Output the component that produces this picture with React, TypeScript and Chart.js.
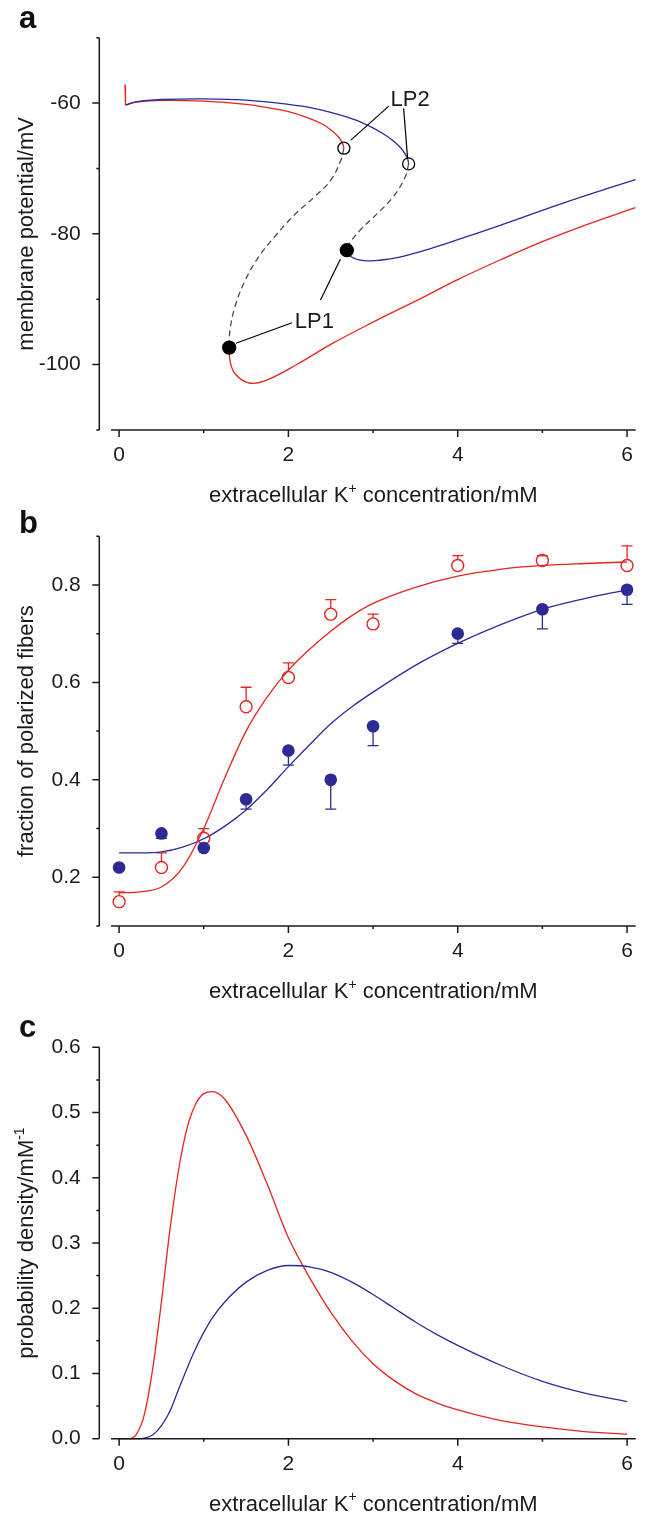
import React, { useEffect, useRef } from "react";
import { Chart, registerables } from "chart.js";
Chart.register(...registerables);

const FONT = "'Liberation Sans', Arial, Helvetica, sans-serif";
const RED = "#e52420";
const BLUE = "#2d2a96";
const INK = "#1a1a1a";
const DASH = "#4a4a4a";

type Pt = [number, number];

// ---------- shared x axis ----------
const xMajorTicks = [0, 2, 4, 6];
const xMinorTicks = [1, 3, 5];
const X_MIN = -0.234;
const X_MAX = 6.102;

// ---------- panel a : bifurcation diagram ----------
const aYMajor = [-60, -80, -100];
const aYMinor = [-50, -70, -90, -110];
const aRedSpike: Pt[] = [[0.07, -57.2], [0.075, -60.3]];
const aRedUpper: Pt[] = [[0.075, -60.3], [0.2, -59.85], [0.5, -59.6], [1.0, -59.7], [1.5, -60.2], [1.8, -60.8], [2.0, -61.3], [2.2, -62.1], [2.4, -63.2], [2.52, -64.3], [2.6, -65.3], [2.64, -66.2], [2.655, -66.9]];
const aRedUnstable: Pt[] = [[2.655, -66.9], [2.62, -68.7], [2.5, -71.8], [2.31, -74.3], [2.07, -77.1], [1.84, -80.4], [1.65, -83.5], [1.49, -87.1], [1.37, -91.1], [1.31, -94.7], [1.3, -97.4]];
const aRedLower: Pt[] = [[1.3, -97.4], [1.31, -99.4], [1.37, -101.4], [1.53, -102.8], [1.72, -102.5], [2.11, -99.9], [2.5, -96.9], [3.0, -93.5], [3.5, -90.3], [4.0, -87.0], [4.5, -84.0], [5.0, -81.2], [5.5, -78.7], [6.1, -76.0]];
const aBlueUpper: Pt[] = [[0.08, -60.3], [0.2, -59.8], [0.5, -59.45], [1.0, -59.35], [1.5, -59.55], [2.0, -60.2], [2.3, -60.8], [2.58, -61.7], [2.8, -62.6], [2.97, -63.6], [3.12, -64.7], [3.24, -65.8], [3.33, -66.9], [3.38, -67.8], [3.41, -68.6], [3.42, -69.3]];
const aBlueUnstable: Pt[] = [[3.42, -69.3], [3.38, -71.3], [3.24, -74.3], [3.05, -76.9], [2.85, -79.4], [2.72, -81.5], [2.69, -82.5]];
const aBlueLower: Pt[] = [[2.69, -82.5], [2.74, -83.5], [2.89, -84.1], [3.1, -84.0], [3.3, -83.6], [3.67, -82.3], [4.0, -80.9], [4.5, -78.7], [5.0, -76.4], [5.5, -74.2], [6.1, -71.7]];
const aLP1: Pt[] = [[1.3, -97.4], [2.69, -82.5]];
const aLP2: Pt[] = [[2.655, -66.9], [3.42, -69.3]];
const aLeaders: Pt[][] = [
  [[3.186, -60.46], [2.737, -65.66]],
  [[3.361, -60.81], [3.408, -68.46]],
  [[2.043, -93.6], [1.38, -96.74]],
  [[2.379, -90.12], [2.613, -83.9]],
];
const aLabels: { text: string; at: Pt }[] = [
  { text: "LP2", at: [3.207, -60.46] },
  { text: "LP1", at: [2.075, -94.4] },
];

// ---------- panel b : fraction of polarized fibers ----------
const bYMajor = [0.2, 0.4, 0.6, 0.8];
const bYMinor = [0.1, 0.3, 0.5, 0.7, 0.9];
const bConc = [0, 0.5, 1, 1.5, 2, 2.5, 3, 4, 5, 6];
const bRedMean = [0.15, 0.22, 0.28, 0.55, 0.61, 0.74, 0.72, 0.84, 0.85, 0.84];
const bRedErr = [0.02, 0.03, 0.02, 0.04, 0.03, 0.03, 0.02, 0.02, 0.01, 0.04];
const bBlueMean = [0.22, 0.29, 0.26, 0.36, 0.46, 0.4, 0.51, 0.7, 0.75, 0.79];
const bBlueErr = [0, 0.01, 0, 0.02, 0.03, 0.06, 0.04, 0.02, 0.04, 0.03];
const bFitX = [0, 0.25, 0.5, 0.75, 1, 1.25, 1.5, 1.75, 2, 2.25, 2.5, 2.75, 3, 3.5, 4, 4.5, 5, 5.5, 6];
const bRedFit = [0.168, 0.17, 0.18, 0.22, 0.3, 0.405, 0.5, 0.57, 0.625, 0.668, 0.705, 0.737, 0.762, 0.795, 0.818, 0.832, 0.84, 0.844, 0.847];
const bBlueFit = [0.25, 0.25, 0.252, 0.262, 0.279, 0.305, 0.338, 0.38, 0.427, 0.472, 0.515, 0.55, 0.58, 0.635, 0.68, 0.718, 0.75, 0.772, 0.79];

// ---------- panel c : probability density ----------
const cYMajor = [0, 0.1, 0.2, 0.3, 0.4, 0.5, 0.6];
const cYMinor = [0.05, 0.15, 0.25, 0.35, 0.45, 0.55];
const cX = [0, 0.1, 0.2, 0.3, 0.4, 0.5, 0.6, 0.7, 0.8, 0.9, 1.0, 1.1, 1.25, 1.5, 1.75, 2.0, 2.25, 2.5, 2.75, 3.0, 3.25, 3.5, 3.75, 4.0, 4.5, 5.0, 5.5, 6.0];
const cRed = [0, 0, 0.006, 0.038, 0.11, 0.21, 0.32, 0.41, 0.475, 0.512, 0.529, 0.532, 0.52, 0.465, 0.39, 0.308, 0.247, 0.194, 0.15, 0.115, 0.089, 0.069, 0.055, 0.044, 0.028, 0.018, 0.011, 0.007];
const cBlue = [0, 0, 0, 0.001, 0.006, 0.02, 0.042, 0.075, 0.107, 0.137, 0.163, 0.185, 0.21, 0.24, 0.258, 0.2655, 0.2635, 0.255, 0.24, 0.221, 0.2, 0.179, 0.16, 0.143, 0.113, 0.088, 0.07, 0.057];

// ---------- titles ----------
type Part = { t: string; sup?: boolean };
const xTitle: Part[] = [{ t: "extracellular K" }, { t: "+", sup: true }, { t: " concentration/mM" }];
const aYTitle: Part[] = [{ t: "membrane potential/mV" }];
const bYTitle: Part[] = [{ t: "fraction of polarized fibers" }];
const cYTitle: Part[] = [{ t: "probability density/mM" }, { t: "-1", sup: true }];

// ---------- helpers ----------
const toXY = (pts: Pt[]) => pts.map(([x, y]) => ({ x, y }));
const zipXY = (xs: number[], ys: number[]) => xs.map((x, i) => ({ x, y: ys[i] }));

const lineDs = (data: any[], color: string, extra: any = {}) => ({
  type: "line",
  data,
  borderColor: color,
  borderWidth: 1.3,
  pointRadius: 0,
  fill: false,
  clip: false,
  ...extra,
});

function drawRich(ctx: CanvasRenderingContext2D, parts: Part[], x: number, y: number, rotate: boolean, size: number) {
  ctx.save();
  ctx.translate(x, y);
  if (rotate) ctx.rotate(-Math.PI / 2);
  ctx.fillStyle = INK;
  ctx.textAlign = "left";
  ctx.textBaseline = "alphabetic";
  const fontOf = (p: Part) => `${p.sup ? Math.round(size * 0.62) : size}px ${FONT}`;
  const widths = parts.map((p) => {
    ctx.font = fontOf(p);
    return ctx.measureText(p.t).width;
  });
  const total = widths.reduce((a, b) => a + b, 0);
  let cx = -total / 2;
  parts.forEach((p, i) => {
    ctx.font = fontOf(p);
    ctx.fillText(p.t, cx, p.sup ? -size * 0.42 : 0);
    cx += widths[i];
  });
  ctx.restore();
}

type PanelDef = {
  key: string;
  letter: string;
  letterY: number;
  top: number;
  height: number;
  areaTop: number;
  areaBottom: number;
  yMin: number;
  yMax: number;
  yMajor: number[];
  yMinor: number[];
  fmt: (v: number) => string;
  yTitle: Part[];
  datasets: any[];
  errors?: { xs: number[]; means: number[]; errs: number[]; dir: number; color: string; start: number }[];
  labels?: { text: string; at: Pt }[];
};

function makePlugin(p: PanelDef) {
  return {
    id: "decor_" + p.key,
    beforeDatasetsDraw(chart: any) {
      if (!p.errors) return;
      const { ctx, scales } = chart;
      const xs = scales.x, ys = scales.y;
      ctx.save();
      ctx.lineWidth = 1.3;
      p.errors.forEach((e) => {
        ctx.strokeStyle = e.color;
        e.xs.forEach((xv, i) => {
          if (!e.errs[i]) return;
          const px = xs.getPixelForValue(xv);
          const p0 = ys.getPixelForValue(e.means[i]);
          const p1 = ys.getPixelForValue(e.means[i] + e.dir * e.errs[i]);
          ctx.beginPath();
          if (Math.abs(p1 - p0) > e.start) {
            const s = e.dir > 0 ? p0 - e.start : p0 + e.start;
            ctx.moveTo(px, s);
            ctx.lineTo(px, p1);
          }
          ctx.moveTo(px - 5.5, p1);
          ctx.lineTo(px + 5.5, p1);
          ctx.stroke();
        });
      });
      ctx.restore();
    },
    afterDraw(chart: any) {
      const { ctx, chartArea: ca, scales } = chart;
      const xs = scales.x, ys = scales.y;
      ctx.save();
      ctx.strokeStyle = INK;
      ctx.lineWidth = 1.5;
      ctx.lineCap = "butt";
      ctx.beginPath();
      ctx.moveTo(ca.left, ys.getPixelForValue(p.yMax));
      ctx.lineTo(ca.left, ys.getPixelForValue(p.yMin));
      ctx.stroke();
      ctx.beginPath();
      p.yMajor.forEach((v) => {
        const py = ys.getPixelForValue(v);
        ctx.moveTo(ca.left - 7, py);
        ctx.lineTo(ca.left, py);
      });
      p.yMinor.forEach((v) => {
        const py = ys.getPixelForValue(v);
        ctx.moveTo(ca.left - 3, py);
        ctx.lineTo(ca.left, py);
      });
      ctx.stroke();
      ctx.beginPath();
      ctx.moveTo(ca.left + 11.7, ca.bottom);
      ctx.lineTo(ca.right, ca.bottom);
      ctx.stroke();
      ctx.beginPath();
      xMajorTicks.forEach((v) => {
        const px = xs.getPixelForValue(v);
        ctx.moveTo(px, ca.bottom);
        ctx.lineTo(px, ca.bottom + 7);
      });
      xMinorTicks.forEach((v) => {
        const px = xs.getPixelForValue(v);
        ctx.moveTo(px, ca.bottom);
        ctx.lineTo(px, ca.bottom + 3);
      });
      ctx.stroke();
      ctx.restore();

      drawRich(ctx, xTitle, (ca.left + 11.7 + ca.right) / 2, ca.bottom + 72, false, 22);
      drawRich(ctx, p.yTitle, 33, (ca.top + ca.bottom) / 2, true, 22);

      ctx.save();
      ctx.fillStyle = "#111";
      ctx.font = `bold 31px ${FONT}`;
      ctx.textAlign = "left";
      ctx.textBaseline = "alphabetic";
      ctx.fillText(p.letter, 19, p.letterY);
      ctx.restore();

      if (p.labels) {
        ctx.save();
        ctx.fillStyle = INK;
        ctx.font = `22px ${FONT}`;
        ctx.textAlign = "left";
        ctx.textBaseline = "alphabetic";
        p.labels.forEach((l) => {
          ctx.fillText(l.text, xs.getPixelForValue(l.at[0]), ys.getPixelForValue(l.at[1]));
        });
        ctx.restore();
      }
    },
  };
}

function buildConfig(p: PanelDef): any {
  const tickFont = { family: FONT, size: 21 };
  return {
    type: "line",
    data: { datasets: p.datasets },
    options: {
      responsive: false,
      animation: false,
      devicePixelRatio: 1,
      events: [],
      layout: { padding: { left: 0, right: 5, top: p.areaTop, bottom: 0 } },
      plugins: { legend: { display: false }, tooltip: { enabled: false }, title: { display: false } },
      scales: {
        x: {
          type: "linear",
          position: "bottom",
          min: X_MIN,
          max: X_MAX,
          grid: { display: false, drawTicks: false },
          border: { display: false },
          ticks: { autoSkip: false, maxRotation: 0, padding: 13, font: tickFont, color: INK, callback: (v: number) => String(v) },
          afterBuildTicks: (s: any) => {
            s.ticks = xMajorTicks.map((v) => ({ value: v }));
          },
          afterFit: (s: any) => {
            s.height = p.height - p.areaBottom;
          },
        },
        y: {
          type: "linear",
          position: "left",
          min: p.yMin,
          max: p.yMax,
          grid: { display: false, drawTicks: false },
          border: { display: false },
          ticks: { autoSkip: false, padding: 18.6, font: tickFont, color: INK, callback: (v: number) => p.fmt(v) },
          afterBuildTicks: (s: any) => {
            s.ticks = p.yMajor.map((v) => ({ value: v }));
          },
          afterFit: (s: any) => {
            s.width = 99.3;
          },
        },
      },
    },
    plugins: [makePlugin(p)],
  };
}

const panelA: PanelDef = {
  key: "a",
  letter: "a",
  letterY: 28,
  top: 0,
  height: 505,
  areaTop: 37.7,
  areaBottom: 430,
  yMin: -110,
  yMax: -50,
  yMajor: aYMajor,
  yMinor: aYMinor,
  fmt: (v) => String(v),
  yTitle: aYTitle,
  labels: aLabels,
  datasets: [
    lineDs(toXY(aLP1), "#000", { showLine: false, pointRadius: 6.5, pointBackgroundColor: "#000", pointBorderColor: "#000", order: 0 }),
    lineDs(toXY(aLP2), "#000", { showLine: false, pointRadius: 6, pointBackgroundColor: "rgba(0,0,0,0)", pointBorderColor: "#000", pointBorderWidth: 1.3, order: 0 }),
    ...aLeaders.map((seg) => lineDs(toXY(seg), "#000", { borderWidth: 1.2, tension: 0, order: 1 })),
    lineDs(toXY(aBlueUpper), BLUE, { tension: 0.4, order: 2 }),
    lineDs(toXY(aBlueLower), BLUE, { tension: 0.4, order: 2 }),
    lineDs(toXY(aRedSpike), RED, { tension: 0, order: 3 }),
    lineDs(toXY(aRedUpper), RED, { tension: 0.4, order: 3 }),
    lineDs(toXY(aRedLower), RED, { tension: 0.4, order: 3 }),
    lineDs(toXY(aBlueUnstable), DASH, { tension: 0.4, borderDash: [6, 4], order: 4 }),
    lineDs(toXY(aRedUnstable), DASH, { tension: 0.4, borderDash: [6, 4], order: 4 }),
  ],
};

const panelB: PanelDef = {
  key: "b",
  letter: "b",
  letterY: 28.3,
  top: 505,
  height: 505,
  areaTop: 28.3,
  areaBottom: 421,
  yMin: 0.1,
  yMax: 0.9,
  yMajor: bYMajor,
  yMinor: bYMinor,
  fmt: (v) => v.toFixed(1),
  yTitle: bYTitle,
  errors: [
    { xs: bConc, means: bRedMean, errs: bRedErr, dir: 1, color: RED, start: 6 },
    { xs: bConc, means: bBlueMean, errs: bBlueErr, dir: -1, color: BLUE, start: 0 },
  ],
  datasets: [
    lineDs(zipXY(bConc, bBlueMean), BLUE, { showLine: false, pointRadius: 6.3, pointBackgroundColor: BLUE, pointBorderColor: BLUE, pointBorderWidth: 0, order: 0 }),
    lineDs(zipXY(bConc, bRedMean), RED, { showLine: false, pointRadius: 6, pointBackgroundColor: "rgba(0,0,0,0)", pointBorderColor: RED, pointBorderWidth: 1.4, order: 0 }),
    lineDs(zipXY(bFitX, bRedFit), RED, { cubicInterpolationMode: "monotone", order: 1 }),
    lineDs(zipXY(bFitX, bBlueFit), BLUE, { cubicInterpolationMode: "monotone", order: 1 }),
  ],
};

const panelC: PanelDef = {
  key: "c",
  letter: "c",
  letterY: 26.7,
  top: 1010,
  height: 505,
  areaTop: 37.3,
  areaBottom: 428.7,
  yMin: 0,
  yMax: 0.6,
  yMajor: cYMajor,
  yMinor: cYMinor,
  fmt: (v) => v.toFixed(1),
  yTitle: cYTitle,
  datasets: [
    lineDs(zipXY(cX, cRed), RED, { cubicInterpolationMode: "monotone", order: 1 }),
    lineDs(zipXY(cX, cBlue), BLUE, { cubicInterpolationMode: "monotone", order: 0 }),
  ],
};

const panels = [panelA, panelB, panelC];

function Panel({ def }: { def: PanelDef }) {
  const ref = useRef<HTMLCanvasElement>(null);
  useEffect(() => {
    const chart = new Chart(ref.current as HTMLCanvasElement, buildConfig(def));
    return () => chart.destroy();
  }, [def]);
  return (
    <canvas
      ref={ref}
      width={646}
      height={def.height}
      style={{ position: "absolute", left: 0, top: def.top, width: 646, height: def.height, display: "block" }}
    />
  );
}

export default function App() {
  return (
    <div style={{ position: "absolute", left: 0, top: 0, width: 646, height: 1515, background: "#fff", overflow: "hidden" }}>
      {panels.map((p) => (
        <Panel key={p.key} def={p} />
      ))}
    </div>
  );
}
